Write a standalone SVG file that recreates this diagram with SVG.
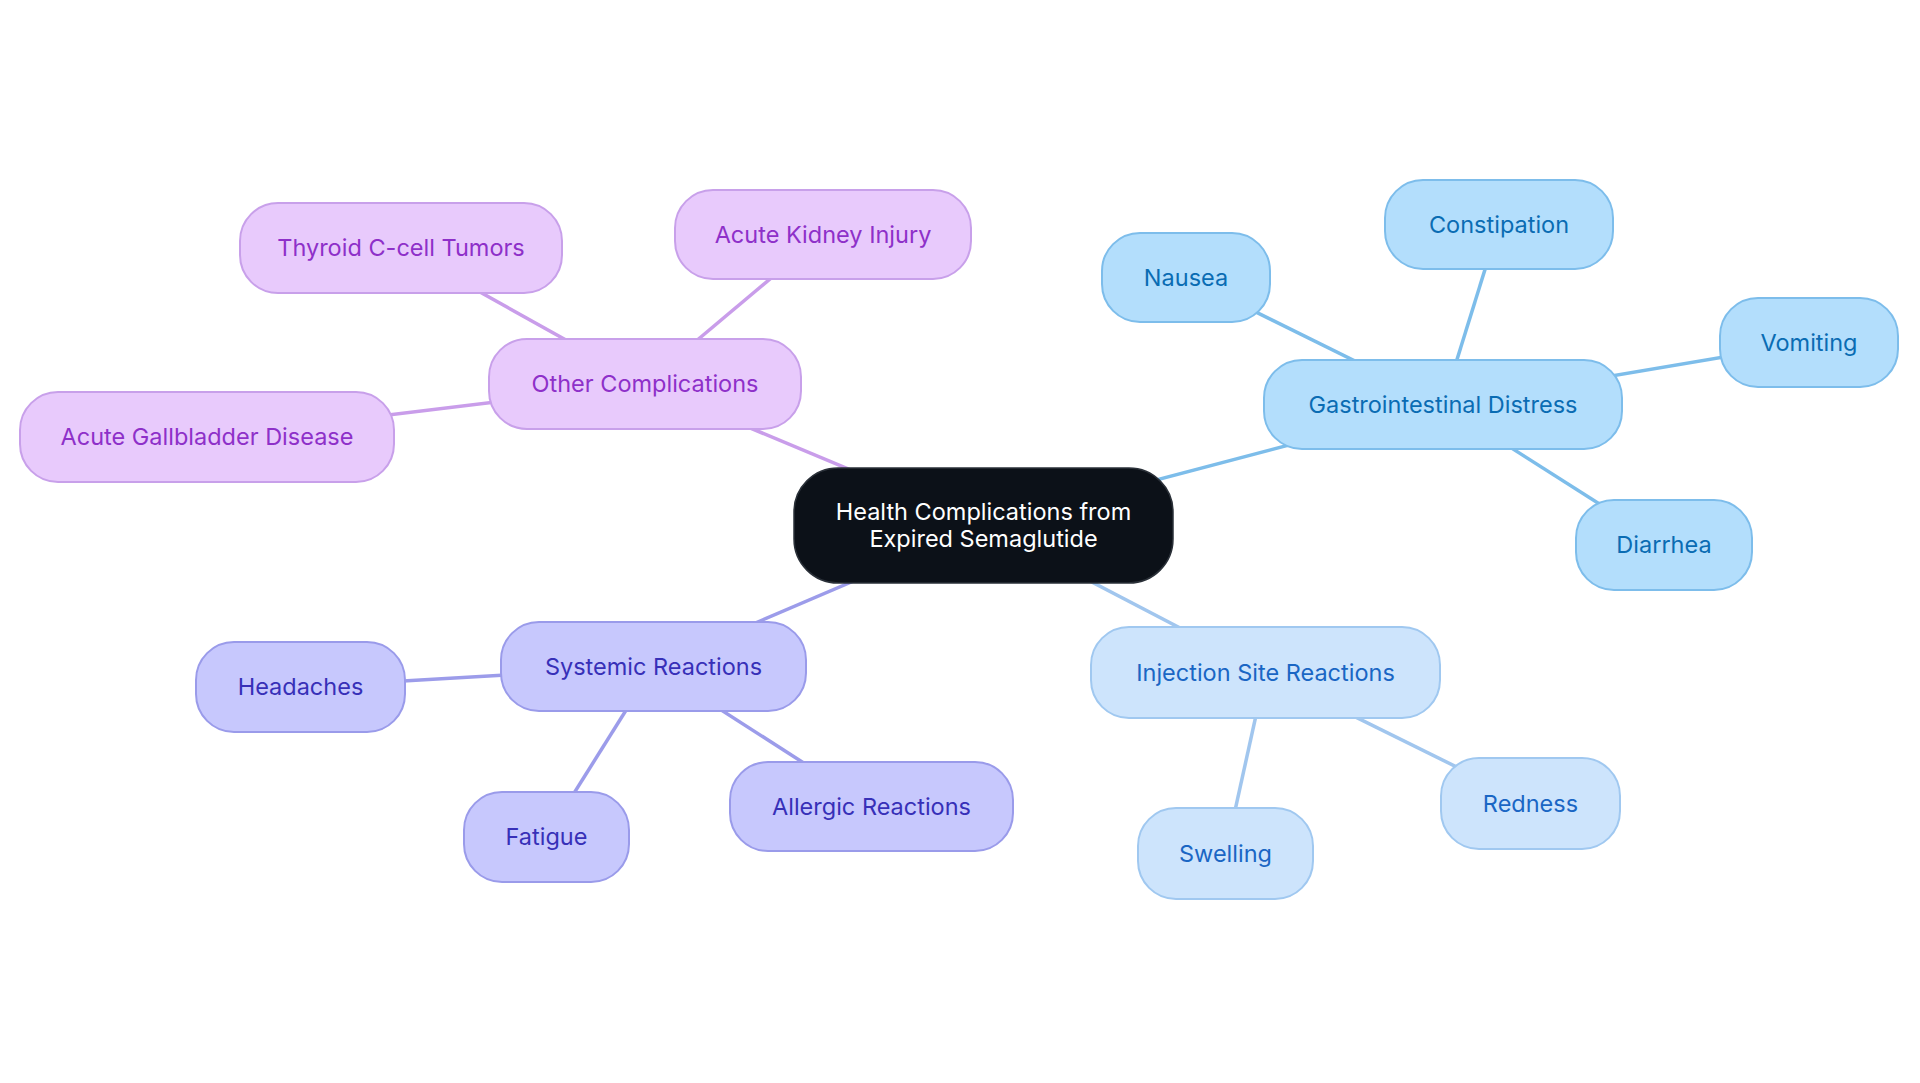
<svg xmlns="http://www.w3.org/2000/svg" width="1920" height="1083" viewBox="0 0 1920 1083">
<style>
text{font-family:Inter,"Noto Sans","Liberation Sans",sans-serif;font-size:23.5px;text-anchor:middle}
.c{stroke-width:3.5;fill:none}
.cp{stroke:#C99DEA}.cb{stroke:#7DBDEA}.cl{stroke:#A1C6EE}.ci{stroke:#9C9CEA}
.np rect{fill:#E8CAFC;stroke:#C8A0EA;stroke-width:2}
.np text{fill:#8E30C9}
.nb rect{fill:#B3DEFC;stroke:#7DBDEB;stroke-width:2}
.nb text{fill:#0A6CB3}
.nl rect{fill:#CDE4FC;stroke:#A0C8F0;stroke-width:2}
.nl text{fill:#1A66C4}
.ni rect{fill:#C7C8FD;stroke:#9A9BEA;stroke-width:2}
.ni text{fill:#3730B8}
</style>
<rect width="1920" height="1083" fill="#ffffff"/>
<g id="connectors">
<line class="c cp" x1="983.5" y1="525.5" x2="645" y2="384"/>
<line class="c cp" x1="645" y1="384" x2="401" y2="248"/>
<line class="c cp" x1="645" y1="384" x2="823" y2="234.5"/>
<line class="c cp" x1="645" y1="384" x2="207" y2="437"/>
<line class="c cb" x1="983.5" y1="525.5" x2="1443" y2="404.5"/>
<line class="c cb" x1="1443" y1="404.5" x2="1186" y2="277.5"/>
<line class="c cb" x1="1443" y1="404.5" x2="1499" y2="224.5"/>
<line class="c cb" x1="1443" y1="404.5" x2="1809" y2="342.5"/>
<line class="c cb" x1="1443" y1="404.5" x2="1664" y2="545"/>
<line class="c cl" x1="983.5" y1="525.5" x2="1265.5" y2="672.5"/>
<line class="c cl" x1="1265.5" y1="672.5" x2="1225.5" y2="853.5"/>
<line class="c cl" x1="1265.5" y1="672.5" x2="1530.5" y2="803.5"/>
<line class="c ci" x1="983.5" y1="525.5" x2="653.5" y2="666.5"/>
<line class="c ci" x1="653.5" y1="666.5" x2="300.5" y2="687"/>
<line class="c ci" x1="653.5" y1="666.5" x2="546.5" y2="837"/>
<line class="c ci" x1="653.5" y1="666.5" x2="871.5" y2="806.5"/>
</g>
<g id="center">
<rect x="794" y="468" width="379" height="115" rx="44" fill="#0C1118" stroke="#2A3038" stroke-width="1.5"/>
<text x="983.5" y="520" fill="#ffffff" font-size="24.3">Health Complications from</text>
<text x="983.5" y="547" fill="#ffffff" font-size="24.3">Expired Semaglutide</text>
</g>
<g id="other" class="np"><rect x="489" y="339" width="312" height="90" rx="38"/><text x="645" y="392">Other Complications</text></g>
<g id="thyroid" class="np"><rect x="240" y="203" width="322" height="90" rx="38"/><text x="401" y="256">Thyroid C-cell Tumors</text></g>
<g id="kidney" class="np"><rect x="675" y="190" width="296" height="89" rx="38"/><text x="823" y="242.5">Acute Kidney Injury</text></g>
<g id="gallbladder" class="np"><rect x="20" y="392" width="374" height="90" rx="38"/><text x="207" y="445">Acute Gallbladder Disease</text></g>
<g id="gi" class="nb"><rect x="1264" y="360" width="358" height="89" rx="38"/><text x="1443" y="412.5">Gastrointestinal Distress</text></g>
<g id="nausea" class="nb"><rect x="1102" y="233" width="168" height="89" rx="38"/><text x="1186" y="285.5">Nausea</text></g>
<g id="constipation" class="nb"><rect x="1385" y="180" width="228" height="89" rx="38"/><text x="1499" y="232.5">Constipation</text></g>
<g id="vomiting" class="nb"><rect x="1720" y="298" width="178" height="89" rx="38"/><text x="1809" y="350.5">Vomiting</text></g>
<g id="diarrhea" class="nb"><rect x="1576" y="500" width="176" height="90" rx="38"/><text x="1664" y="553">Diarrhea</text></g>
<g id="injection" class="nl"><rect x="1091" y="627" width="349" height="91" rx="38"/><text x="1265.5" y="680.5">Injection Site Reactions</text></g>
<g id="swelling" class="nl"><rect x="1138" y="808" width="175" height="91" rx="38"/><text x="1225.5" y="861.5">Swelling</text></g>
<g id="redness" class="nl"><rect x="1441" y="758" width="179" height="91" rx="38"/><text x="1530.5" y="811.5">Redness</text></g>
<g id="systemic" class="ni"><rect x="501" y="622" width="305" height="89" rx="38"/><text x="653.5" y="674.5">Systemic Reactions</text></g>
<g id="headaches" class="ni"><rect x="196" y="642" width="209" height="90" rx="38"/><text x="300.5" y="695">Headaches</text></g>
<g id="fatigue" class="ni"><rect x="464" y="792" width="165" height="90" rx="38"/><text x="546.5" y="845">Fatigue</text></g>
<g id="allergic" class="ni"><rect x="730" y="762" width="283" height="89" rx="38"/><text x="871.5" y="814.5">Allergic Reactions</text></g>
</svg>
